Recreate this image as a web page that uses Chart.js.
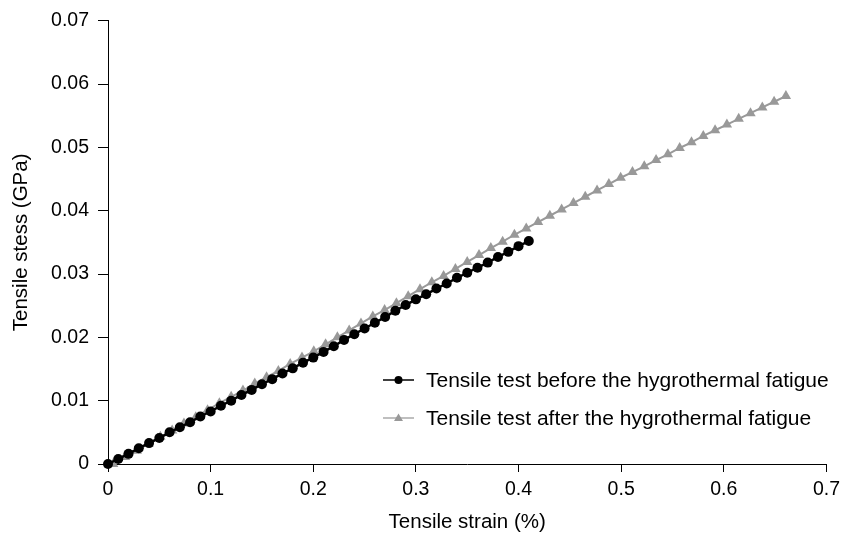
<!DOCTYPE html>
<html>
<head>
<meta charset="utf-8">
<script src="https://cdn.jsdelivr.net/npm/chart.js@4"></script>
<style>
  html, body { margin: 0; padding: 0; background: #fff; }
  #wrap { width: 846px; height: 547px; }
</style>
</head>
<body>
<div id="wrap"><canvas id="chart"></canvas></div>
<script>
// values
const beforeLabel = 'Tensile test before the hygrothermal fatigue';
const afterLabel = 'Tensile test after the hygrothermal fatigue';

const beforeStrain = [0, 0.01, 0.02, 0.03, 0.04, 0.05, 0.06, 0.07, 0.08, 0.09,
  0.10, 0.11, 0.12, 0.13, 0.14, 0.15, 0.16, 0.17, 0.18, 0.19,
  0.20, 0.21, 0.22, 0.23, 0.24, 0.25, 0.26, 0.27, 0.28, 0.29,
  0.30, 0.31, 0.32, 0.33, 0.34, 0.35, 0.36, 0.37, 0.38, 0.39, 0.40, 0.41];
const beforeStress = [0, 0.0008, 0.0016, 0.0025, 0.0033, 0.0041, 0.0050, 0.0058, 0.0066, 0.0075,
  0.0083, 0.0092, 0.0100, 0.0109, 0.0117, 0.0126, 0.0134, 0.0143, 0.0151, 0.0160,
  0.0168, 0.0177, 0.0186, 0.0196, 0.0205, 0.0214, 0.0223, 0.0232, 0.0242, 0.0251,
  0.0260, 0.0268, 0.0277, 0.0285, 0.0294, 0.0302, 0.0310, 0.0318, 0.0327, 0.0335, 0.0344, 0.0352];

const afterStrain = [0.005, 0.0165, 0.028, 0.0395, 0.051, 0.0625, 0.074, 0.0855, 0.097,
  0.1085, 0.12, 0.1315, 0.143, 0.1545, 0.166, 0.1775, 0.189,
  0.2005, 0.212, 0.2235, 0.235, 0.2465, 0.258, 0.2695, 0.281, 0.2925,
  0.304, 0.3155, 0.327, 0.3385, 0.35, 0.3615, 0.373, 0.3845, 0.396,
  0.4075, 0.419, 0.4305, 0.442, 0.4535, 0.465, 0.4765, 0.488, 0.4995,
  0.511, 0.5225, 0.534, 0.5455, 0.557, 0.5685, 0.58, 0.5915,
  0.603, 0.6145, 0.626, 0.6375, 0.649, 0.6605];
const afterStress = [0, 0.0011, 0.0021, 0.0032, 0.0043, 0.0053, 0.0064, 0.0074, 0.0085,
  0.0096, 0.0106, 0.0116, 0.0127, 0.0137, 0.0147, 0.0158, 0.0168,
  0.0178, 0.0189, 0.0200, 0.0211, 0.0222, 0.0233, 0.0243, 0.0254, 0.0265,
  0.0276, 0.0287, 0.0297, 0.0308, 0.0319, 0.0330, 0.0341, 0.0351, 0.0362,
  0.0372, 0.0382, 0.0392, 0.0402, 0.0412, 0.0422, 0.0432, 0.0442, 0.0452,
  0.0461, 0.0470, 0.0480, 0.0489, 0.0499, 0.0508, 0.0518, 0.0527,
  0.0536, 0.0545, 0.0554, 0.0563, 0.0572, 0.0581];

const xTicks = [0, 0.1, 0.2, 0.3, 0.4, 0.5, 0.6, 0.7];
const yTicks = [0, 0.01, 0.02, 0.03, 0.04, 0.05, 0.06, 0.07];

const FONT = 'Liberation Sans, Arial, Helvetica, sans-serif';
const BLACK = '#000000';
const GREY = '#999999';

// legend drawn inside the plot, like the original
const insideLegend = {
  id: 'insideLegend',
  afterDraw(chart) {
    const ctx = chart.ctx;
    const x0 = 383, x1 = 414, tx = 426;
    const rows = [380, 418];
    ctx.save();
    chart.data.datasets.forEach((ds, i) => {
      const y = rows[i];
      ctx.strokeStyle = i === 0 ? BLACK : '#aaaaaa';
      ctx.lineWidth = 1.5;
      ctx.beginPath();
      ctx.moveTo(x0, y);
      ctx.lineTo(x1, y);
      ctx.stroke();
      ctx.fillStyle = ds.backgroundColor;
      ctx.beginPath();
      if (ds.pointStyle === 'triangle') {
        ctx.moveTo(398.5, y - 4.5);
        ctx.lineTo(403, y + 3);
        ctx.lineTo(394, y + 3);
        ctx.closePath();
      } else {
        ctx.arc(398.5, y, 4, 0, Math.PI * 2);
      }
      ctx.fill();
      ctx.fillStyle = '#000';
      ctx.font = '21px ' + FONT;
      ctx.textBaseline = 'middle';
      ctx.textAlign = 'left';
      ctx.fillText(ds.label, tx, y + 1);
    });
    ctx.restore();
  }
};

const ctx = document.getElementById('chart').getContext('2d');
new Chart(ctx, {
  type: 'scatter',
  data: {
    datasets: [
      {
        label: beforeLabel,
        data: beforeStrain.map((x, i) => ({ x: x, y: beforeStress[i] })),
        showLine: true,
        borderColor: BLACK,
        backgroundColor: BLACK,
        borderWidth: 2.5,
        pointStyle: 'circle',
        pointRadius: 5,
        pointBorderWidth: 0,
        clip: false,
        order: 1
      },
      {
        label: afterLabel,
        data: afterStrain.map((x, i) => ({ x: x, y: afterStress[i] })),
        showLine: true,
        borderColor: GREY,
        backgroundColor: GREY,
        borderWidth: 2,
        pointStyle: 'triangle',
        pointRadius: 6,
        pointBorderWidth: 0,
        clip: false,
        order: 2
      }
    ]
  },
  options: {
    responsive: true,
    maintainAspectRatio: false,
    animation: false,
    layout: { padding: { top: 17, right: 17, left: 0, bottom: 0 } },
    plugins: {
      legend: { display: false },
      tooltip: { enabled: false }
    },
    scales: {
      x: {
        type: 'linear',
        min: 0,
        max: 0.7,
        afterBuildTicks: s => { s.ticks = xTicks.map(v => ({ value: v })); },
        afterFit: s => { s.height = 83; },
        ticks: {
          color: '#000',
          font: { family: FONT, size: 19.5 },
          padding: 6,
          maxRotation: 0,
          callback: v => v === 0 ? '0' : String(+v.toFixed(1))
        },
        grid: { drawOnChartArea: false, drawTicks: true, tickLength: 8, tickColor: '#000', tickWidth: 1 },
        border: { display: true, color: '#000', width: 1 },
        title: {
          display: true,
          text: 'Tensile strain (%)',
          color: '#000',
          font: { family: FONT, size: 20.5 },
          padding: { top: 12.5, bottom: 12.5 }
        }
      },
      y: {
        type: 'linear',
        min: 0,
        max: 0.07,
        afterBuildTicks: s => { s.ticks = yTicks.map(v => ({ value: v })); },
        afterFit: s => { s.width = 108; },
        ticks: {
          color: '#000',
          font: { family: FONT, size: 19.5 },
          padding: 9,
          callback: v => v === 0 ? '0' : v.toFixed(2)
        },
        grid: { drawOnChartArea: false, drawTicks: true, tickLength: 10, tickColor: '#000', tickWidth: 1 },
        border: { display: true, color: '#000', width: 1 },
        title: {
          display: true,
          text: 'Tensile stess (GPa)',
          color: '#000',
          font: { family: FONT, size: 20.5 },
          padding: { top: 9.5, bottom: 9.5 }
        }
      }
    }
  },
  plugins: [insideLegend]
});
</script>
</body>
</html>
